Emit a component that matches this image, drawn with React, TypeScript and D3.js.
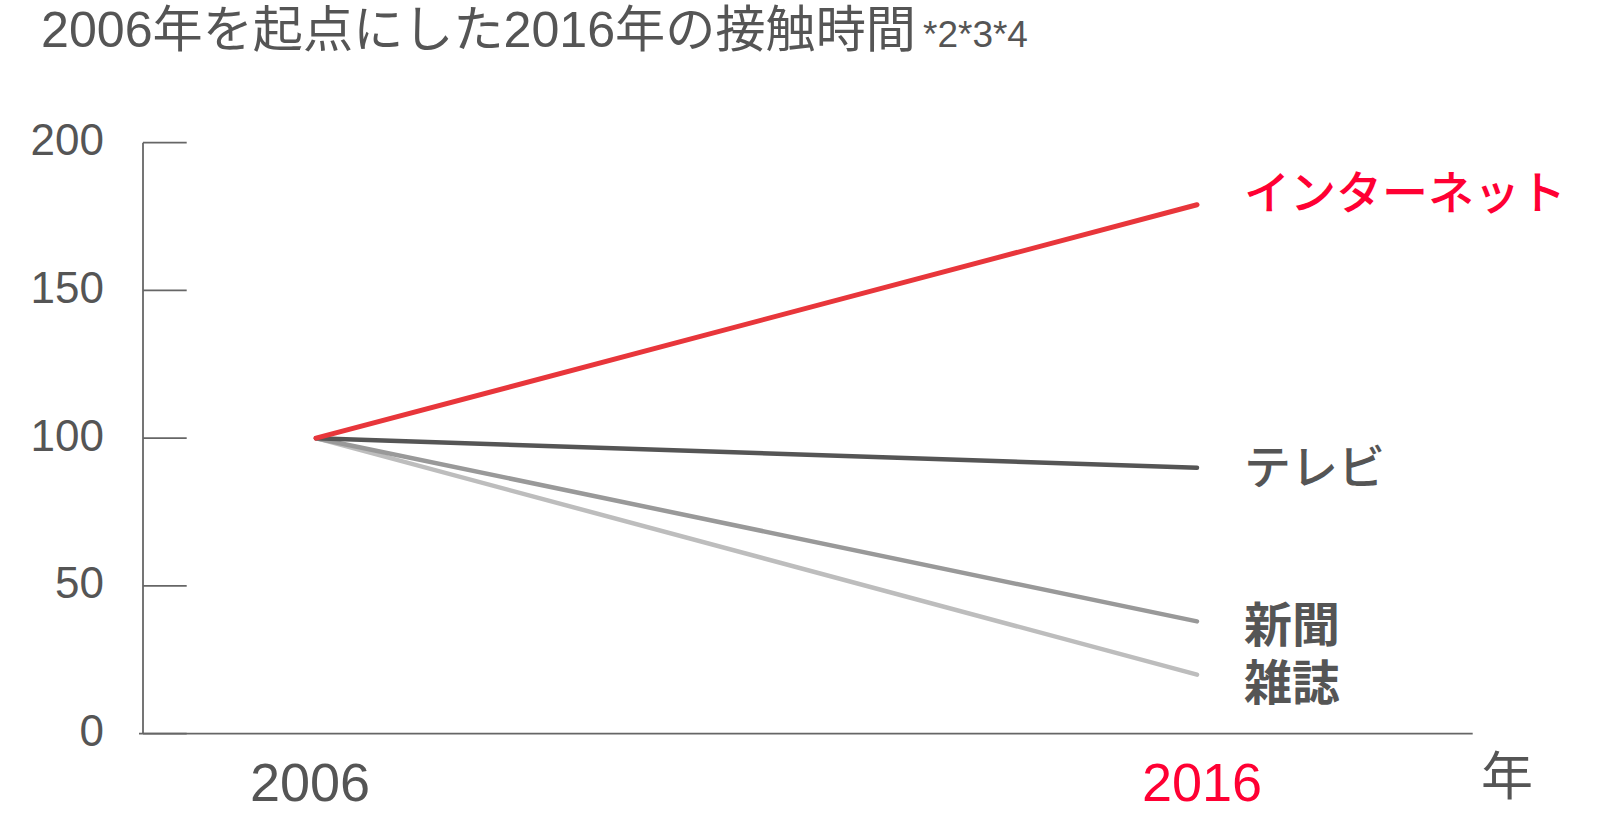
import React from "react";
import * as d3 from "d3";

const years = [2006, 2016];
const seriesNames = ["雑誌", "新聞", "テレビ", "インターネット"];
const magazine = [100, 20];
const newspaper = [100, 38];
const television = [100, 90];
const internet = [100, 179];
const yTicks = [0, 50, 100, 150, 200];
const xTickLabels = ["2006", "2016"];
const title = "2006年を起点にした2016年の接触時間";
const titleNote = "*2*3*4";
const xUnit = "年";

const W = 1620;
const H = 821;
const FONT = "'Liberation Sans', Arial, 'Noto Sans CJK JP', sans-serif";
const JFONT = "'Noto Sans CJK JP', 'Liberation Sans', sans-serif";

export default function App() {
  const x = d3.scaleLinear().domain([2006, 2016]).range([316, 1197]);
  const y = d3.scaleLinear().domain([0, 200]).range([733.7, 142.7]);
  const line = d3
    .line<number>()
    .x((_, i) => x(years[i]))
    .y((v) => y(v));

  const series = [
    { name: seriesNames[0], values: magazine, color: "#bdbdbd", width: 4.5, label: "#555555", dy: 4, size: 48, weight: 700 },
    { name: seriesNames[1], values: newspaper, color: "#999999", width: 4.5, label: "#555555", dy: 0, size: 48, weight: 700 },
    { name: seriesNames[2], values: television, color: "#555555", width: 4.5, label: "#555555", dy: -4.5, size: 47, weight: 500 },
    { name: seriesNames[3], values: internet, color: "#e8363b", width: 5, label: "#ff0033", dy: -15.5, size: 46, weight: 500 },
  ];
  const printGroup = series.slice(0, 2).reverse();
  const singles = series.slice(2);

  return (
    <svg
      width={W}
      height={H}
      style={{ position: "absolute", left: 0, top: 0, display: "block", background: "#fff" }}
    >
      <text
        x={41}
        y={47}
        fontFamily={FONT}
        fontSize={50}
        fill="#555555"
        textLength={875}
        lengthAdjust="spacingAndGlyphs"
      >
        {title}
      </text>
      <text x={923} y={47} fontFamily={FONT} fontSize={37} fill="#555555">
        {titleNote}
      </text>

      {/* y axis */}
      <line x1={143} x2={143} y1={y(200)} y2={y(0)} stroke="#666" strokeWidth={1.8} />
      <line x1={139} x2={1472.7} y1={y(0)} y2={y(0)} stroke="#666" strokeWidth={1.8} />
      {yTicks.map((t) => (
        <g key={t}>
          <line x1={143} x2={186.7} y1={y(t)} y2={y(t)} stroke="#666" strokeWidth={1.8} />
          <text
            x={104}
            y={y(t)}
            dy={-3}
            textAnchor="end"
            dominantBaseline="central"
            fontFamily={FONT}
            fontSize={44}
            fill="#555555"
          >
            {t}
          </text>
        </g>
      ))}

      {/* x labels */}
      {years.map((yr, i) => (
        <text
          key={yr}
          x={x(yr) + (i === 0 ? -6 : 5)}
          y={800.5}
          textAnchor="middle"
          fontFamily={FONT}
          fontSize={54}
          fill={i === 1 ? "#ff0033" : "#555555"}
        >
          {xTickLabels[i]}
        </text>
      ))}
      <text x={1481} y={795} fontFamily={JFONT} fontSize={52} fill="#555555">
        {xUnit}
      </text>

      {/* lines */}
      {series.map((s) => (
        <path
          key={s.name}
          d={line(s.values) || ""}
          fill="none"
          stroke={s.color}
          strokeWidth={s.width}
          strokeLinecap="round"
        />
      ))}

      {/* series labels */}
      {singles.map((s) => (
        <text
          key={s.name + "-l"}
          x={1244}
          y={y(s.values[1]) + s.dy}
          dominantBaseline="central"
          fontFamily={JFONT}
          fontSize={s.size}
          fontWeight={s.weight}
          fill={s.label}
        >
          {s.name}
        </text>
      ))}
      <text
        dominantBaseline="central"
        fontFamily={JFONT}
        fontSize={48}
        fontWeight={700}
        fill="#555555"
      >
        {printGroup.map((s) => (
          <tspan key={s.name} x={1244} y={y(s.values[1]) + s.dy}>
            {s.name}
          </tspan>
        ))}
      </text>
    </svg>
  );
}
